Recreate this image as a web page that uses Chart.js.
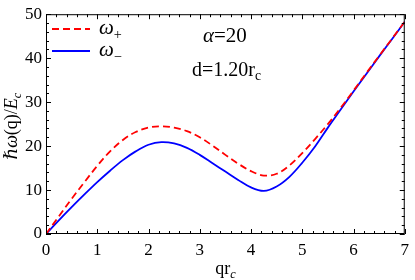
<!DOCTYPE html>
<html>
<head>
<meta charset="utf-8">
<script src="https://cdn.jsdelivr.net/npm/chart.js@4"></script>
<style>
  html, body { margin: 0; padding: 0; background: #fff; }
  #wrap { width: 415px; height: 280px; }
</style>
</head>
<body>
<div id="wrap"><canvas id="chart" width="415" height="280"></canvas></div>
<script>
// qr_c sample positions and read-off values of the two branches
const qValues = [0, 0.25, 0.5, 0.75, 1, 1.25, 1.5, 1.75, 2, 2.25, 2.5, 2.75, 3, 3.25, 3.5, 3.75, 4, 4.25, 4.5, 4.75, 5, 5.25, 5.5, 5.75, 6, 6.25, 6.5, 6.75, 7];
const omegaPlus = [0, 4.0, 8.0, 11.8, 15.5, 18.8, 21.4, 23.2, 24.2, 24.5, 24.2, 23.4, 22.0, 20.1, 18.0, 16.0, 14.3, 13.3, 13.7, 15.6, 18.4, 21.6, 25.0, 28.7, 32.6, 36.6, 40.5, 44.4, 48.3];
const omegaMinus = [0, 3.1, 6.1, 9.0, 11.8, 14.4, 16.8, 18.8, 20.3, 20.9, 20.6, 19.6, 18.0, 16.1, 14.2, 12.3, 10.6, 9.8, 10.8, 13.0, 16.2, 19.9, 24.2, 28.3, 32.4, 36.4, 40.4, 44.3, 48.3];
const xTicks = [0, 1, 2, 3, 4, 5, 6, 7];
const yTicks = [0, 10, 20, 30, 40, 50];

const serif = '"Liberation Serif", "DejaVu Serif", serif';

function pts(ys) {
    return qValues.map((q, i) => ({ x: q, y: ys[i] }));
}

// draws mixed italic / subscript text pieces starting at x
function drawPieces(ctx, pieces, x, y, size) {
    pieces.forEach(p => {
        const fs = p.sub ? size * 0.68 : size;
        ctx.font = (p.italic ? 'italic ' : '') + fs + 'px ' + serif;
        const dy = p.sub ? size * 0.22 : 0;
        ctx.fillText(p.t, x, y + dy);
        x += ctx.measureText(p.t).width;
    });
    return x;
}

function piecesWidth(ctx, pieces, size) {
    let w = 0;
    pieces.forEach(p => {
        const fs = p.sub ? size * 0.68 : size;
        ctx.font = (p.italic ? 'italic ' : '') + fs + 'px ' + serif;
        w += ctx.measureText(p.t).width;
    });
    return w;
}

const framePlugin = {
    id: 'frame',
    afterDraw(chart) {
        const ctx = chart.ctx;
        const a = chart.chartArea;
        const xs = chart.scales.x, ys = chart.scales.y;
        ctx.save();
        ctx.strokeStyle = '#000';
        ctx.lineWidth = 1;
        ctx.strokeRect(a.left + 0.5, a.top + 0.5, a.right - a.left - 1, a.bottom - a.top - 1);

        // inward ticks on all four sides
        ctx.beginPath();
        for (let i = 0; i <= 35; i++) {
            const v = i * 0.2;
            const px = Math.round(xs.getPixelForValue(v)) + 0.5;
            const len = i % 5 === 0 ? 5 : 3;
            ctx.moveTo(px, a.bottom); ctx.lineTo(px, a.bottom - len);
            ctx.moveTo(px, a.top); ctx.lineTo(px, a.top + len);
        }
        for (let i = 0; i <= 25; i++) {
            const v = i * 2;
            const py = Math.round(ys.getPixelForValue(v)) + 0.5;
            const len = i % 5 === 0 ? 5 : 3;
            ctx.moveTo(a.left, py); ctx.lineTo(a.left + len, py);
            ctx.moveTo(a.right, py); ctx.lineTo(a.right - len, py);
        }
        ctx.stroke();

        // legend
        ctx.lineWidth = 1.8;
        ctx.strokeStyle = '#ff0000';
        ctx.setLineDash([7, 4]);
        ctx.beginPath(); ctx.moveTo(52, 29); ctx.lineTo(90, 29); ctx.stroke();
        ctx.setLineDash([]);
        ctx.strokeStyle = '#0000ff';
        ctx.beginPath(); ctx.moveTo(52, 51); ctx.lineTo(90, 51); ctx.stroke();

        ctx.fillStyle = '#000';
        ctx.textBaseline = 'alphabetic';
        ctx.textAlign = 'left';
        drawPieces(ctx, [{ t: 'ω', italic: true }, { t: '+', sub: true }], 99, 34, 21);
        drawPieces(ctx, [{ t: 'ω', italic: true }, { t: '−', sub: true }], 99, 56, 21);

        // annotations
        drawPieces(ctx, [{ t: 'α', italic: true }, { t: '=20' }], 203, 42, 21);
        drawPieces(ctx, [{ t: 'd=1.20r' }, { t: 'c', sub: true }], 192, 76, 20);

        // x title
        const xt = [{ t: 'qr' }, { t: 'c', italic: true, sub: true }];
        const xw = piecesWidth(ctx, xt, 18);
        drawPieces(ctx, xt, (a.left + a.right) / 2 - xw / 2, 274, 18);

        // y title, rotated
        const yt = [{ t: 'ℏω', italic: true }, { t: '(q)/' }, { t: 'E', italic: true }, { t: 'c', italic: true, sub: true }];
        const yw = piecesWidth(ctx, yt, 18);
        ctx.translate(17, (a.top + a.bottom) / 2 + 2);
        ctx.rotate(-Math.PI / 2);
        drawPieces(ctx, yt, -yw / 2, 0, 18);
        ctx.restore();
    }
};

new Chart(document.getElementById('chart').getContext('2d'), {
    type: 'line',
    data: {
        datasets: [
            {
                label: 'ω+',
                data: pts(omegaPlus),
                borderColor: '#ff0000',
                borderWidth: 1.8,
                borderDash: [7, 4],
                pointRadius: 0,
                tension: 0.35,
                fill: false
            },
            {
                label: 'ω−',
                data: pts(omegaMinus),
                borderColor: '#0000ff',
                borderWidth: 1.8,
                pointRadius: 0,
                tension: 0.35,
                fill: false
            }
        ]
    },
    options: {
        responsive: false,
        animation: false,
        events: [],
        layout: { padding: { left: 0, right: 6, top: 11, bottom: 0 } },
        plugins: { legend: { display: false }, tooltip: { enabled: false } },
        scales: {
            x: {
                type: 'linear',
                min: 0, max: 7,
                afterBuildTicks: s => { s.ticks = xTicks.map(v => ({ value: v })); },
                afterFit: s => { s.height = 46; },
                grid: { display: false, drawTicks: false },
                border: { display: false },
                ticks: { color: '#000', font: { family: serif, size: 17 }, padding: 6, maxRotation: 0 }
            },
            y: {
                min: 0, max: 50,
                afterBuildTicks: s => { s.ticks = yTicks.map(v => ({ value: v })); },
                afterFit: s => { s.width = 46; },
                grid: { display: false, drawTicks: false },
                border: { display: false },
                ticks: { color: '#000', font: { family: serif, size: 17 }, padding: 4 }
            }
        }
    },
    plugins: [framePlugin]
});
</script>
</body>
</html>
